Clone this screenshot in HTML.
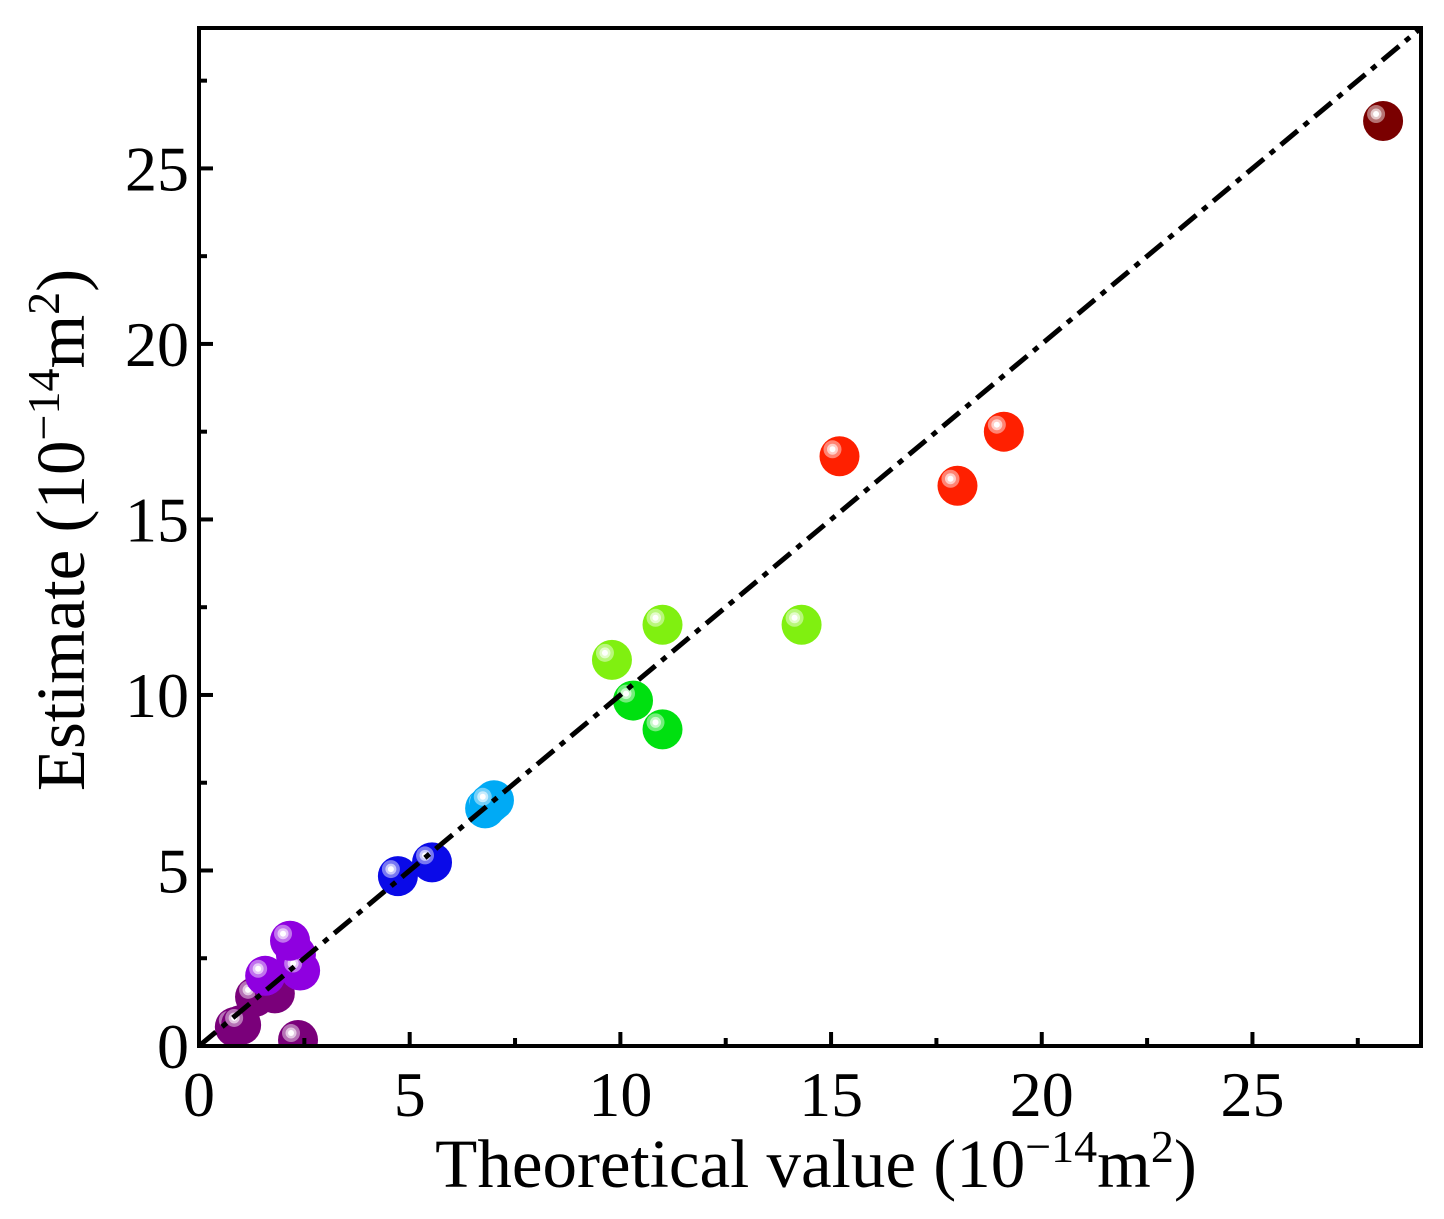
<!DOCTYPE html>
<html><head><meta charset="utf-8"><style>
html,body{margin:0;padding:0;background:#fff;}
svg{display:block;font-family:"Liberation Serif",serif;}
</style></head><body>
<svg id="chart" width="1444" height="1219">
<defs>
<clipPath id="plotclip"><rect x="199" y="28" width="1222" height="1018"/></clipPath>
</defs>
<g id="points" clip-path="url(#plotclip)"></g>
<g id="axes"></g>
</svg>
<script>
const xTicks = [0, 5, 10, 15, 20, 25];
const yTicks = [0, 5, 10, 15, 20, 25];
const theoretical = [0.85, 1.33, 1.8, 2.35, 1.0, 2.3, 2.4, 1.57, 2.16, 4.72, 5.53, 6.79, 7.0, 6.9, 10.3, 11.0, 9.8, 11.0, 14.3, 15.2, 18.0, 19.1, 28.1];
const estimate =    [0.54, 1.4, 1.5, 0.17, 0.6, 2.6, 2.15, 2.0, 3.0, 4.84, 5.23, 6.77, 7.0, 6.9, 9.84, 9.02, 11.0, 12.0, 12.0, 16.8, 15.96, 17.5, 26.35];
const colors = ['#7a007a','#7a007a','#7a007a','#7a007a','#7a007a','#8f00e0','#8f00e0','#8f00e0','#8f00e0','#0a0ae8','#0a0ae8','#00aaf5','#00aaf5','#00aaf5','#00e010','#00e010','#80f010','#80f010','#80f010','#ff2000','#ff2000','#ff2000','#7a0000'];
const X0=199,X1=1421,Y0=1046,Y1=28,MAX=29;
const sx=v=>X0+(X1-X0)*v/MAX, sy=v=>Y0-(Y0-Y1)*v/MAX;
const NS='http://www.w3.org/2000/svg';
function mk(t,a,p){const e=document.createElementNS(NS,t);for(const k in a)e.setAttribute(k,a[k]);p.appendChild(e);return e;}
const pts=document.getElementById('points'), ax=document.getElementById('axes');
theoretical.forEach((v,i)=>{
  const g=mk('g',{},pts);
  
  
  const cx=sx(v), cy=sy(estimate[i]);
  mk('circle',{cx:cx,cy:cy,r:20,fill:colors[i]},g);
  mk('circle',{cx:cx-7,cy:cy-7,r:9,fill:'#fff','fill-opacity':0.45},g);
  mk('circle',{cx:cx-7,cy:cy-7,r:5.5,fill:'#fff','fill-opacity':0.6},g);
  mk('circle',{cx:cx-7,cy:cy-7,r:3,fill:'#fff'},g);
});
const line=mk('line',{x1:sx(0),y1:sy(0),x2:sx(MAX),y2:sy(MAX),stroke:'#000','stroke-width':5,'stroke-dasharray':'22 8 6 8'},ax);


const frame=mk('rect',{x:X0,y:Y1,width:X1-X0,height:Y0-Y1,fill:'none',stroke:'#000','stroke-width':4},ax);


xTicks.forEach(t=>{
  mk('line',{x1:sx(t),y1:Y0,x2:sx(t),y2:Y0-14,stroke:'#000','stroke-width':4},ax);
  mk('line',{x1:sx(t+2.5),y1:Y0,x2:sx(t+2.5),y2:Y0-8,stroke:'#000','stroke-width':4},ax);
  const tx=mk('text',{x:sx(t),y:1116,'font-size':64,'text-anchor':'middle'},ax);
  tx.textContent=t;
  
  
});
yTicks.forEach(t=>{
  mk('line',{x1:X0,y1:sy(t),x2:X0+14,y2:sy(t),stroke:'#000','stroke-width':4},ax);
  mk('line',{x1:X0,y1:sy(t+2.5),x2:X0+8,y2:sy(t+2.5),stroke:'#000','stroke-width':4},ax);
  const ty=mk('text',{x:189,y:sy(t)+22,'font-size':64,'text-anchor':'end'},ax);
  ty.textContent=t;
  
  
});
</script>
<svg style="position:absolute;left:0;top:0" width="1444" height="1219">
<text x="816" y="1187" font-size="69" text-anchor="middle" font-family="Liberation Serif,serif">Theoretical value (10<tspan baseline-shift="super" font-size="46">−14</tspan>m<tspan baseline-shift="super" font-size="46">2</tspan>)</text>
<text transform="translate(84,530) rotate(-90)" font-size="69" text-anchor="middle" font-family="Liberation Serif,serif">Estimate (10<tspan baseline-shift="super" font-size="46">−14</tspan>m<tspan baseline-shift="super" font-size="46">2</tspan>)</text>
</svg>
</body></html>
